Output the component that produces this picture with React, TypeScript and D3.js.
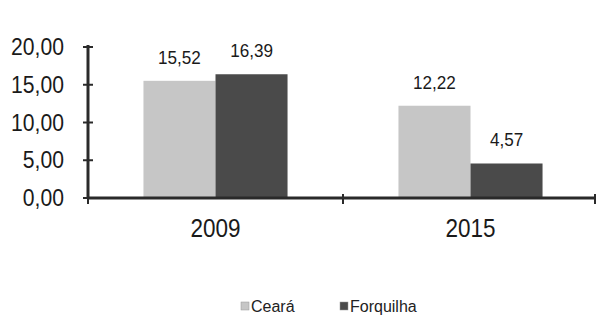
import React from 'react';
import * as d3 from 'd3';

const categories = ['2009', '2015'];
const seriesNames = ['Ceará', 'Forquilha'];
const ceara = [15.52, 12.22];
const forquilha = [16.39, 4.57];
const yTicks = [0, 5, 10, 15, 20];

const colors = ['#c6c6c6', '#4a4a4a'];

const w = 596;
const h = 317;
const left = 88;
const right = 598;
const top = 47;
const bottom = 198;

const fmt = (v: number) => v.toFixed(2).replace('.', ',');

// narrow text: scaled horizontally to look like the condensed font of the original
const NText = ({ x, y, size, sx, anchor, children }: any) => (
  <text
    transform={`translate(${x},${y}) scale(${sx},1)`}
    textAnchor={anchor}
    fontSize={size}
    fill="#1a1a1a"
  >
    {children}
  </text>
);

const App = () => {
  const x = d3.scaleBand<string>().domain(categories).range([left, right]);
  const inner = d3.scaleBand<string>().domain(seriesNames).range([0, x.bandwidth()]).paddingOuter(0.77);
  const y = d3.scaleLinear().domain([0, 20]).range([bottom, top]);

  const series = [ceara, forquilha];

  return (
    <svg width={w} height={h} style={{ position: 'absolute', left: 0, top: 0, background: '#fff' }} fontFamily="Liberation Sans, Arial, sans-serif">
      {/* bars */}
      {categories.map((c, i) =>
        seriesNames.map((s, j) => {
          const v = series[j][i];
          const bx = (x(c) ?? 0) + (inner(s) ?? 0);
          return (
            <g key={c + s}>
              <rect x={bx} y={y(v)} width={inner.bandwidth()} height={bottom - y(v)} fill={colors[j]} />
              <NText x={bx + inner.bandwidth() / 2} y={y(v) - 17} size={19} sx={0.9} anchor="middle">
                {fmt(v)}
              </NText>
            </g>
          );
        })
      )}
      {/* y axis */}
      <line x1={left} x2={left} y1={top - 2} y2={bottom + 1} stroke="#2a2a2a" strokeWidth={3} />
      {yTicks.map((t) => (
        <g key={t}>
          <line x1={left - 5} x2={left + 5} y1={y(t)} y2={y(t)} stroke="#2a2a2a" strokeWidth={2} />
          <NText x={64} y={y(t) + 8} size={23} sx={0.92} anchor="end">
            {fmt(t)}
          </NText>
        </g>
      ))}
      {/* x axis */}
      <line x1={left} x2={w} y1={bottom} y2={bottom} stroke="#2a2a2a" strokeWidth={3} />
      {[left, right - x.bandwidth(), w - 1].map((tx, i) => (
        <line key={i} x1={tx} x2={tx} y1={bottom - 4} y2={bottom + 6} stroke="#2a2a2a" strokeWidth={2} />
      ))}
      {categories.map((c) => (
        <NText key={c} x={(x(c) ?? 0) + x.bandwidth() / 2} y={237} size={25} sx={0.9} anchor="middle">
          {c}
        </NText>
      ))}
      {/* legend */}
      {seriesNames.map((s, j) => {
        const lx = [241, 340][j];
        return (
          <g key={s}>
            <rect x={lx} y={302} width={8} height={8} fill={colors[j]} stroke="#999" strokeWidth={0.5} />
            <text x={lx + 10} y={312} fontSize={16} fill="#222">
              {s}
            </text>
          </g>
        );
      })}
    </svg>
  );
};

export default App;
